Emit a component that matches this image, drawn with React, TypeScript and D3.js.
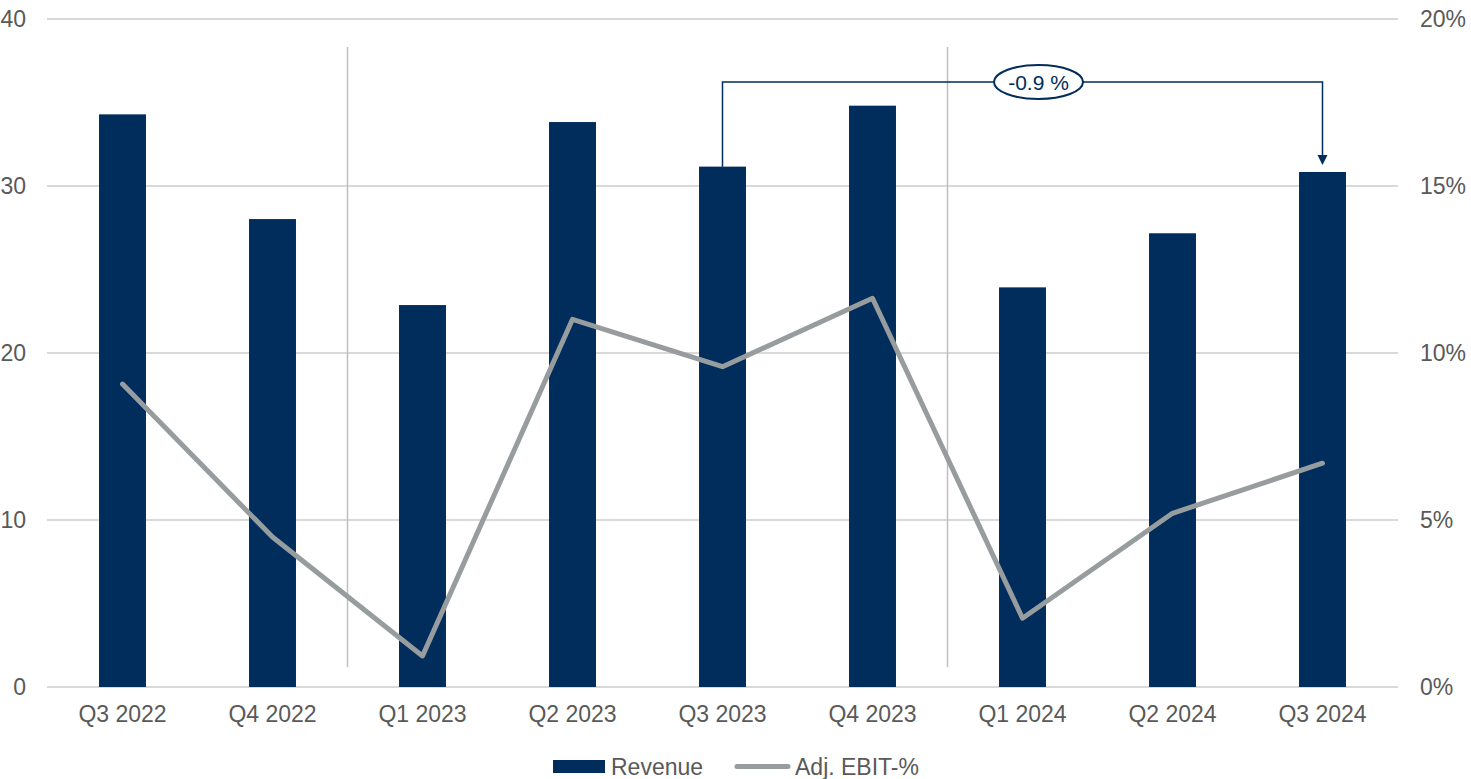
import React from "react";
import * as d3 from "d3";

const categories = ["Q3 2022", "Q4 2022", "Q1 2023", "Q2 2023", "Q3 2023", "Q4 2023", "Q1 2024", "Q2 2024", "Q3 2024"];
const revenue = [34.29, 28.02, 22.87, 33.83, 31.16, 34.81, 23.93, 27.17, 30.84];
const ebitPct = [0.0907, 0.0449, 0.0093, 0.1101, 0.0959, 0.1164, 0.0206, 0.052, 0.067];
const leftTicks = [0, 10, 20, 30, 40];
const rightTicks = [0, 0.05, 0.1, 0.15, 0.2];
const separatorsAfter = ["Q4 2022", "Q4 2023"];
const annotationFrom = "Q3 2023";
const annotationTo = "Q3 2024";
const annotationLabel = "-0.9 %";
const legendItems = ["Revenue", "Adj. EBIT-%"];

const W = 1471;
const H = 779;
const NAVY = "#002d5b";
const GRAY = "#979d9f";
const TEXT = "#595959";
const FONT = "'Liberation Sans', Arial, sans-serif";

export default function App() {
  const x = d3.scaleBand<string>().domain(categories).range([47.5, 1397.5]).paddingInner(0.687).paddingOuter(0.3435);
  const yL = d3.scaleLinear().domain([0, 40]).range([687, 19]);
  const yR = d3.scaleLinear().domain([0, 0.2]).range([687, 19]);
  const cx = (c: string) => (x(c) as number) + x.bandwidth() / 2;
  const step = x.step();

  const line = d3
    .line<number>()
    .x((_, i) => cx(categories[i]))
    .y((d) => yR(d));

  const iFrom = categories.indexOf(annotationFrom);
  const iTo = categories.indexOf(annotationTo);
  const ax1 = cx(annotationFrom);
  const ax2 = cx(annotationTo);
  const ay = 82;
  const fromTop = yL(revenue[iFrom]);
  const toTop = yL(revenue[iTo]) - 7;
  const ellCx = (ax1 + ax2) / 2 + 16;

  return (
    <svg width={W} height={H} style={{ position: "absolute", left: 0, top: 0, background: "#fff" }} fontFamily={FONT}>
      {leftTicks.map((t) => (
        <line key={"g" + t} x1={47} x2={1398} y1={yL(t)} y2={yL(t)} stroke="#d9d9d9" strokeWidth={1.8} />
      ))}
      {separatorsAfter.map((c) => (
        <line key={"s" + c} x1={cx(c) + step / 2} x2={cx(c) + step / 2} y1={47} y2={667} stroke="#bfbfbf" strokeWidth={1.5} />
      ))}
      {categories.map((c, i) => (
        <rect key={"b" + c} x={x(c)} y={yL(revenue[i])} width={x.bandwidth()} height={yL(0) - yL(revenue[i])} fill={NAVY} />
      ))}
      <path d={line(ebitPct) as string} fill="none" stroke={GRAY} strokeWidth={5} strokeLinejoin="round" strokeLinecap="round" />
      {leftTicks.map((t) => (
        <text key={"l" + t} x={26} y={yL(t)} dy="0.36em" textAnchor="end" fontSize={23} fill={TEXT}>
          {t}
        </text>
      ))}
      {rightTicks.map((t) => (
        <text key={"r" + t} x={1420} y={yR(t)} dy="0.36em" textAnchor="start" fontSize={23} fill={TEXT}>
          {d3.format(".0%")(t)}
        </text>
      ))}
      {categories.map((c) => (
        <text key={"x" + c} x={cx(c)} y={722} textAnchor="middle" fontSize={23} fill={TEXT}>
          {c}
        </text>
      ))}
      {/* annotation */}
      <path
        d={`M${ax1},${fromTop} V${ay} H${ax2} V${toTop - 8}`}
        fill="none"
        stroke={NAVY}
        strokeWidth={1.5}
      />
      <path d={`M${ax2 - 5},${toTop - 10} L${ax2 + 5},${toTop - 10} L${ax2},${toTop} Z`} fill={NAVY} />
      <ellipse cx={ellCx} cy={ay} rx={44.5} ry={17} fill="#fff" stroke={NAVY} strokeWidth={2} />
      <text x={ellCx} y={ay} dy="0.36em" textAnchor="middle" fontSize={21} fill={NAVY}>
        {annotationLabel}
      </text>
      {/* legend */}
      <rect x={553} y={760} width={52} height={13} fill={NAVY} />
      <text x={611} y={775} fontSize={23} fill={TEXT}>
        {legendItems[0]}
      </text>
      <line x1={737} x2={788} y1={766.5} y2={766.5} stroke={GRAY} strokeWidth={5} strokeLinecap="round" />
      <text x={795} y={775} fontSize={23} fill={TEXT}>
        {legendItems[1]}
      </text>
    </svg>
  );
}
